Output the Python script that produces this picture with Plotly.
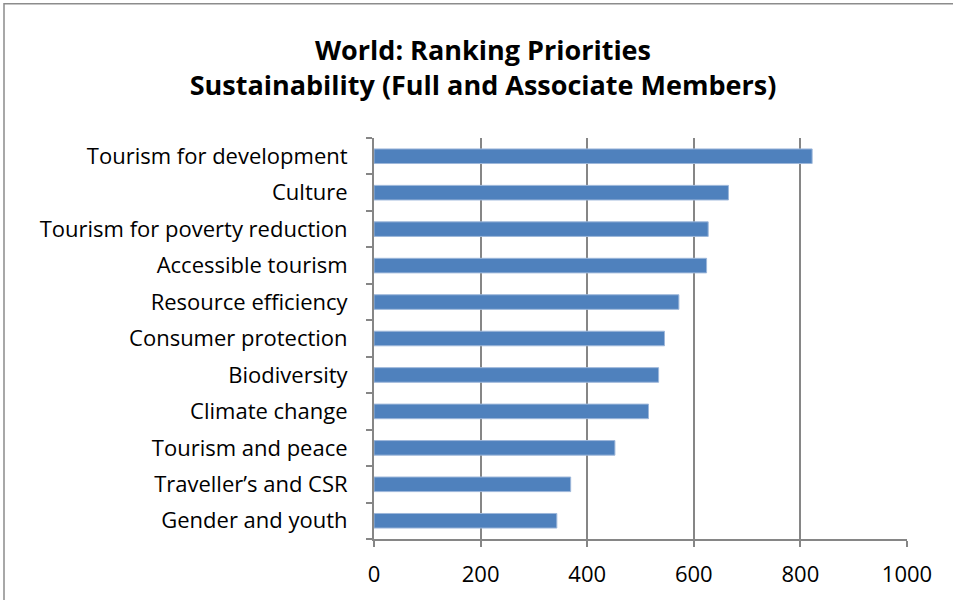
import plotly.graph_objects as go

# Sustainability priorities, ranked by score
categories = [
    "Tourism for development",
    "Culture",
    "Tourism for poverty reduction",
    "Accessible tourism",
    "Resource efficiency",
    "Consumer protection",
    "Biodiversity",
    "Climate change",
    "Tourism and peace",
    "Traveller\u2019s and CSR",
    "Gender and youth",
]
scores = [822, 665, 627, 624, 572, 545, 534, 515, 452, 369, 343]
x_ticks = [0, 200, 400, 600, 800, 1000]

W, H = 953, 600
L, R, T, B = 374, 46, 138, 59
pw, ph = W - L - R, H - T - B

font_family = "'Open Sans', Lato, sans-serif"
grid_col = "#868686"

fig = go.Figure(
    go.Bar(
        x=scores,
        y=categories,
        orientation="h",
        marker=dict(color="#4F81BD", line=dict(color="#9DB7DA", width=1)),
        hoverinfo="x+y",
    )
)

# Outer chart frame (left and top edges fall inside the page)
fx0 = (4 - L) / pw
fy1 = 1 + (T - 3) / ph
fig.add_shape(
    type="rect", xref="paper", yref="paper",
    x0=fx0, x1=1 + (R + 20) / pw, y0=-(B + 20) / ph, y1=fy1,
    line=dict(color="#8c8c8c", width=1.5), fillcolor="rgba(0,0,0,0)",
    layer="below",
)

fig.update_layout(
    width=W, height=H,
    margin=dict(l=L, r=R, t=T, b=B),
    paper_bgcolor="white", plot_bgcolor="white",
    bargap=0.6,
    showlegend=False,
    title=dict(
        text="<b>World: Ranking Priorities<br>Sustainability (Full and Associate Members)</b>",
        x=483 / W, xanchor="center",
        y=1 - 60 / H, yanchor="middle",
        font=dict(family=font_family, size=27, color="black"),
    ),
    xaxis=dict(
        range=[0, 1000],
        tickvals=x_ticks,
        ticktext=[str(v) for v in x_ticks],
        showgrid=True, gridcolor=grid_col, gridwidth=2,
        showline=True, linecolor=grid_col, linewidth=2,
        ticks="outside", ticklen=6, tickcolor=grid_col, tickwidth=2,
        tickfont=dict(family=font_family, size=22, color="black"),
        ticklabelstandoff=9,
        zeroline=False,
        fixedrange=True,
    ),
    yaxis=dict(
        categoryorder="array",
        categoryarray=categories[::-1],
        autorange=False,
        range=[-0.5, len(categories) - 0.5],
        showline=True, linecolor=grid_col, linewidth=2,
        ticks="outside", ticklen=6, tickcolor=grid_col, tickwidth=2,
        tickson="boundaries",
        showgrid=False,
        tickfont=dict(family=font_family, size=22, color="black"),
        ticklabelstandoff=20,
        fixedrange=True,
    ),
)

fig.write_html("out.html")
